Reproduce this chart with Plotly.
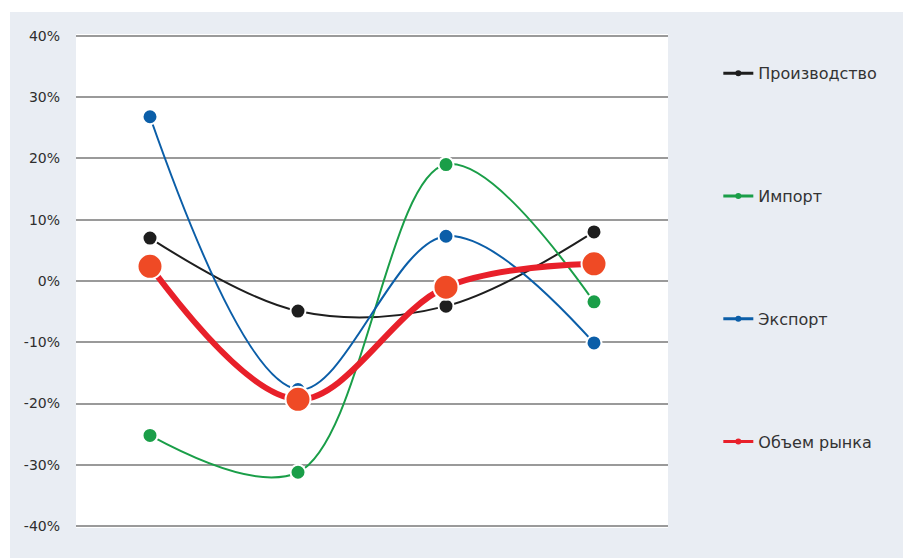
import plotly.graph_objects as go

categories = ["2019", "2020", "2021", "2022"]
proizvodstvo = [7.0, -4.9, -4.1, 8.0]
import_vals = [-25.2, -31.2, 19.0, -3.4]
export_vals = [26.8, -17.7, 7.3, -10.1]
market_vals = [2.4, -19.3, -1.0, 2.8]
y_ticks = [-40, -30, -20, -10, 0, 10, 20, 30, 40]
y_tick_labels = [f"{v}%" for v in y_ticks]

series = [
    ("Производство", proizvodstvo, "#1e1e1e", "#1e1e1e", 2, 15),
    ("Импорт", import_vals, "#1a9e48", "#1a9e48", 2, 15),
    ("Экспорт", export_vals, "#0b5ea8", "#0b5ea8", 2, 15),
    ("Объем рынка", market_vals, "#e8202a", "#ef4a25", 6, 25),
]

fig = go.Figure()
x_idx = list(range(len(categories)))
for i, (name, vals, lc, mc, lw, ms) in enumerate(series):
    fig.add_trace(go.Scatter(
        x=x_idx, y=vals, name=name, mode="lines+markers",
        line=dict(color=lc, width=lw, shape="spline", smoothing=1.0),
        marker=dict(color=mc, size=ms, line=dict(color="white", width=2)),
        showlegend=False, legendgroup=f"g{i}",
    ))
# legend entries (small dot + line, as in the reference legend)
for i, (name, vals, lc, mc, lw, ms) in enumerate(series):
    fig.add_trace(go.Scatter(
        x=[None], y=[None], name=name, mode="lines+markers",
        line=dict(color=lc, width=3),
        marker=dict(color=lc, size=6),
        legendgroup=f"g{i}", showlegend=True,
    ))

fig.update_layout(
    width=903, height=558,
    margin=dict(l=76, r=235, t=34, b=30),
    paper_bgcolor="#e9edf3",
    plot_bgcolor="white",
    font=dict(family="DejaVu Sans", color="#333333"),
    showlegend=True,
    legend=dict(
        x=1.085, y=0.955, xanchor="left", yanchor="top",
        tracegroupgap=99, bgcolor="rgba(0,0,0,0)",
        font=dict(size=16, color="#333333", family="DejaVu Sans"),
    ),
    xaxis=dict(range=[-0.5, 3.5], showticklabels=False, showgrid=False,
               zeroline=False, showline=False, ticks=""),
    yaxis=dict(range=[-40.3, 40.3], tickvals=y_ticks, ticktext=y_tick_labels,
               showgrid=True, gridcolor="#9a9a9a", gridwidth=1.5,
               zeroline=False, showline=False, ticks="", ticklen=0,
               tickfont=dict(size=14, color="#2e2e2e", family="DejaVu Sans"),
               ticklabelstandoff=15),
    shapes=[
        dict(type="rect", xref="paper", yref="paper", layer="above",
             x0=-76/592, x1=1 + 235/592, y0=1 + 22/494, y1=1 + 34/494,
             fillcolor="white", line=dict(width=0)),
        dict(type="rect", xref="paper", yref="paper", layer="above",
             x0=-76/592, x1=-66/592, y0=-30/494, y1=1 + 34/494,
             fillcolor="white", line=dict(width=0)),
    ],
)

fig.write_html("out.html")
